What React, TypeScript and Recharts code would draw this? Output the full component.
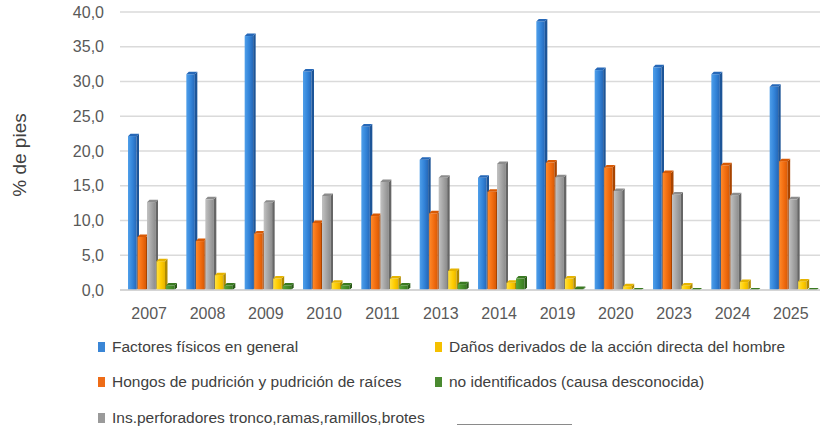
import React from "react";
import { BarChart, Bar, XAxis, YAxis, CartesianGrid, Legend } from "recharts";

const years = ["2007", "2008", "2009", "2010", "2011", "2013", "2014", "2019", "2020", "2023", "2024", "2025"];
const factoresFisicos = [22.5, 31.4, 36.9, 31.8, 23.9, 19.1, 16.5, 39.0, 32.0, 32.4, 31.4, 29.6];
const hongos = [8.0, 7.4, 8.5, 10.0, 11.0, 11.4, 14.5, 18.7, 18.0, 17.2, 18.3, 18.9];
const perforadores = [13.0, 13.4, 12.9, 13.9, 15.9, 16.5, 18.5, 16.6, 14.6, 14.1, 14.0, 13.4];
const daniosHombre = [4.5, 2.5, 2.0, 1.4, 2.0, 3.1, 1.4, 2.0, 0.9, 1.0, 1.5, 1.6];
const noIdentificados = [1.0, 1.0, 1.0, 1.0, 1.0, 1.2, 2.0, 0.5, 0.3, 0.3, 0.3, 0.3];
const yTicks = [0, 5, 10, 15, 20, 25, 30, 35, 40];

const data = years.map((year, i) => ({
  year,
  ff: factoresFisicos[i],
  ho: hongos[i],
  ip: perforadores[i],
  dh: daniosHombre[i],
  ni: noIdentificados[i],
}));

type SeriesCfg = { key: string; name: string; light: string; mid: string; dark: string; side: string; legend: string };

const series: SeriesCfg[] = [
  { key: "ff", name: "Factores físicos en general", light: "#4f9fea", mid: "#3283d8", dark: "#2668b8", side: "#1d5598", legend: "#3a86d6" },
  { key: "ho", name: "Hongos de pudrición y pudrición de raíces", light: "#ff8a2a", mid: "#f26d10", dark: "#d85a05", side: "#a84400", legend: "#ee6c17" },
  { key: "ip", name: "Ins.perforadores tronco,ramas,ramillos,brotes", light: "#c2c2c2", mid: "#a4a4a4", dark: "#8c8c8c", side: "#666666", legend: "#9a9a9a" },
  { key: "dh", name: "Daños derivados de la acción directa del hombre", light: "#ffe040", mid: "#ffcc00", dark: "#e6b400", side: "#b08a00", legend: "#f5c000" },
  { key: "ni", name: "no identificados (causa desconocida)", light: "#5aa63a", mid: "#468f2a", dark: "#3a7a22", side: "#2a5a18", legend: "#4a8a30" },
];

const FONT = "'Liberation Sans', Arial, 'DejaVu Sans', sans-serif";
const DEPTH_SHIFT = 3;

const makeShape = (s: SeriesCfg) => (props: any) => {
  const { y, width, height } = props;
  if (!height || height <= 0) return null;
  const x = props.x + DEPTH_SHIFT;
  const d = Math.min(2.5, height);
  const w = width + 1.5;
  const fw = w - d;
  const gid = `grad-${s.key}`;
  return (
    <g>
      <defs>
        <linearGradient id={gid} x1="0" y1="0" x2="1" y2="0">
          <stop offset="0%" stopColor={s.light} />
          <stop offset="55%" stopColor={s.mid} />
          <stop offset="100%" stopColor={s.dark} />
        </linearGradient>
      </defs>
      <rect x={x} y={y + d} width={fw} height={height - d} fill={`url(#${gid})`} />
      <polygon
        points={`${x + fw},${y + d} ${x + w},${y} ${x + w},${y + height - d} ${x + fw},${y + height}`}
        fill={s.side}
      />
      <polygon
        points={`${x},${y + d} ${x + d},${y} ${x + w},${y} ${x + fw},${y + d}`}
        fill={s.dark}
      />
    </g>
  );
};

const legendLayout: { idx: number; left: number; top: number }[] = [
  { idx: 0, left: 98, top: 17 },
  { idx: 3, left: 435, top: 17 },
  { idx: 1, left: 98, top: 52 },
  { idx: 4, left: 435, top: 52 },
  { idx: 2, left: 98, top: 88 },
];

const LegendContent = () => (
  <div style={{ position: "relative", width: 823, height: 0, fontFamily: FONT }}>
    {legendLayout.map(({ idx, left, top }) => {
      const s = series[idx];
      return (
        <div
          key={s.key}
          style={{
            position: "absolute",
            left,
            top: top - 10,
            height: 20,
            display: "flex",
            alignItems: "center",
            whiteSpace: "nowrap",
          }}
        >
          <span style={{ display: "inline-block", width: 7, height: 10, background: s.legend, marginRight: 7 }} />
          <span style={{ fontSize: 15.5, color: "#404040" }}>{s.name}</span>
        </div>
      );
    })}
    <div style={{ position: "absolute", left: 457, top: 94, width: 115, height: 0, borderTop: "1.5px solid #8a8a8a" }} />
  </div>
);

const YLabel = () => (
  <text
    x={19}
    y={155}
    transform="rotate(-90 19 155)"
    textAnchor="middle"
    dominantBaseline="central"
    fontFamily={FONT}
    fontSize={19}
    fill="#404040"
  >
    % de pies
  </text>
);

export default function App() {
  return (
    <div style={{ position: "absolute", left: 0, top: 0, background: "#ffffff" }}>
      <BarChart
        width={823}
        height={427}
        data={data}
        margin={{ top: 12, right: 3, bottom: 107, left: 0 }}
        barGap={0}
        barSize={9.5}
      >
        <CartesianGrid vertical={false} stroke="#dadada" strokeWidth={1.5} />
        <XAxis
          dataKey="year"
          height={30}
          tickLine={false}
          axisLine={{ stroke: "#d0d0d0", strokeWidth: 1.5 }}
          tickMargin={12}
          interval={0}
          tick={{ fontFamily: FONT, fontSize: 16, fill: "#595959" }}
        />
        <YAxis
          width={120}
          domain={[0, 40]}
          ticks={yTicks}
          interval={0}
          tickLine={false}
          axisLine={false}
          tickMargin={10}
          tickFormatter={(v: number) => v.toFixed(1).replace(".", ",")}
          tick={{ fontFamily: FONT, fontSize: 16, fill: "#595959" }}
          label={{ content: () => <YLabel /> }}
        />
        <Legend
          content={() => <LegendContent />}
          wrapperStyle={{ position: "absolute", left: 0, top: 330, width: 823, height: 0 }}
        />
        {series.map((s) => (
          <Bar
            key={s.key}
            dataKey={s.key}
            name={s.name}
            fill={s.mid}
            isAnimationActive={false}
            shape={makeShape(s)}
          />
        ))}
      </BarChart>
    </div>
  );
}
